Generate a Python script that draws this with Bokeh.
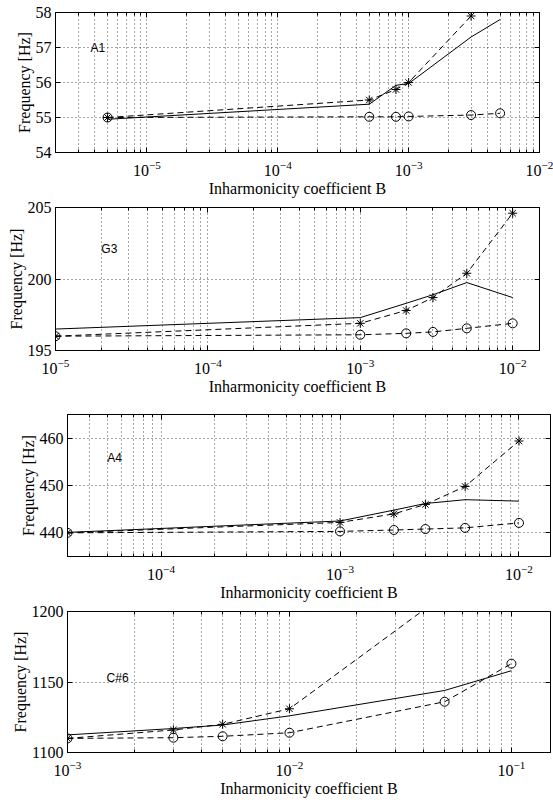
from bokeh.plotting import figure
from bokeh.models import Range1d, FixedTicker, LogAxis, LinearAxis, Label
from bokeh.embed import file_html
from bokeh.resources import INLINE

SERIF = "Times"
SANS = "Arial"

# ---------------- data ----------------
# A1
A1_B_star = [5e-6, 5e-4, 8e-4, 1e-3, 3e-3]
A1_f_star = [55.0, 55.5, 55.8, 56.0, 57.9]
A1_B = [5e-6, 5e-4, 8e-4, 1e-3, 3e-3, 5e-3]
A1_f_circle = [55.0, 55.02, 55.02, 55.03, 55.07, 55.12]
A1_f_solid = [54.95, 55.38, 55.92, 55.97, 57.3, 57.8]
A1_yticks = [54, 55, 56, 57, 58]

# G3
G3_B = [1e-5, 1e-3, 2e-3, 3e-3, 5e-3, 1e-2]
G3_f_star = [196.0, 196.9, 197.8, 198.7, 200.4, 204.6]
G3_f_circle = [196.0, 196.1, 196.2, 196.3, 196.55, 196.9]
G3_f_solid = [196.5, 197.3, 198.3, 198.9, 199.75, 198.7]
G3_yticks = [195, 200, 205]

# A4
A4_B = [3e-5, 1e-3, 2e-3, 3e-3, 5e-3, 1e-2]
A4_f_star = [440.0, 442.2, 444.0, 446.0, 449.8, 459.4]
A4_f_circle = [440.0, 440.3, 440.6, 440.8, 441.05, 442.1]
A4_f_solid = [440.1, 442.5, 444.8, 446.2, 447.0, 446.7]
A4_yticks = [440, 450, 460]

# C#6
C6_B = [1e-3, 3e-3, 5e-3, 1e-2, 5e-2, 1e-1]
C6_f_star = [1110, 1116, 1120, 1131, 1212, 1290]
C6_f_circle = [1110, 1110.5, 1111.5, 1114, 1136, 1163]
C6_f_solid = [1112.5, 1117, 1119.5, 1126, 1144, 1158]
C6_yticks = [1100, 1150, 1200]

X_LABEL = "Inharmonicity coefficient B"
Y_LABEL = "Frequency [Hz]"

panels = [
    dict(name="A1", Bs=A1_B_star, fs=A1_f_star, B=A1_B, fc=A1_f_circle, fl=A1_f_solid,
         xr=(2e-6, 1e-2), yr=(54, 58), yt=A1_yticks, lab=(3.7e-6, 57.0),
         h=199, bt=12, bb=45, bl=55, br=14),
    dict(name="G3", Bs=G3_B, fs=G3_f_star, B=G3_B, fc=G3_f_circle, fl=G3_f_solid,
         xr=(1e-5, 1.5e-2), yr=(195, 205), yt=G3_yticks, lab=(2e-5, 202.1),
         h=201, bt=8, bb=50, bl=55, br=14),
    dict(name="A4", Bs=A4_B, fs=A4_f_star, B=A4_B, fc=A4_f_circle, fl=A4_f_solid,
         xr=(3e-5, 1.5e-2), yr=(435, 465), yt=A4_yticks, lab=(5e-5, 455.8),
         h=203, bt=14, bb=47, bl=67, br=3),
    dict(name="C#6", Bs=C6_B, fs=C6_f_star, B=C6_B, fc=C6_f_circle, fl=C6_f_solid,
         xr=(1e-3, 0.15), yr=(1100, 1200), yt=C6_yticks, lab=(1.5e-3, 1152.5),
         h=199, bt=8, bb=50, bl=67, br=3),
]


def log_ticks(lo, hi):
    majors, minors = [], []
    for n in range(-8, 2):
        d = 10.0 ** n
        if lo * 0.999 <= d <= hi * 1.001:
            majors.append(d)
        for k in range(2, 10):
            v = k * d
            if lo <= v <= hi:
                minors.append(v)
    return majors, minors


def style_axis(ax, labels=True):
    ax.axis_line_color = "black"
    ax.axis_line_width = 1
    ax.major_tick_in = 5
    ax.major_tick_out = 0
    ax.minor_tick_in = 3
    ax.minor_tick_out = 0
    ax.major_tick_line_color = "black"
    ax.minor_tick_line_color = "black"
    if labels:
        ax.major_label_text_font = SERIF
        ax.major_label_text_font_size = "16px"
        ax.major_label_text_color = "black"
        ax.axis_label_text_font = SERIF
        ax.axis_label_text_font_size = "16px"
        ax.axis_label_text_font_style = "normal"
        ax.axis_label_text_color = "black"
        ax.axis_label_standoff = 0
    else:
        ax.major_label_text_font_size = "1px"
        ax.major_label_text_color = None
        ax.major_label_standoff = 0


figs = []
for c in panels:
    majors, minors = log_ticks(*c["xr"])
    p = figure(width=553, height=c["h"], x_axis_type="log",
               x_range=Range1d(*c["xr"]), y_range=Range1d(*c["yr"]),
               output_backend="svg", toolbar_location=None,
               min_border_left=c["bl"], min_border_right=c["br"],
               min_border_top=c["bt"], min_border_bottom=c["bb"])
    p.background_fill_color = "white"
    p.border_fill_color = "white"
    p.outline_line_color = "black"
    p.outline_line_width = 1
    p.outline_line_alpha = 1

    xt = FixedTicker(ticks=majors, minor_ticks=minors)
    ytk = FixedTicker(ticks=c["yt"], minor_ticks=[])
    xa = p.xaxis[0]
    xa.ticker = xt
    xa.axis_label = X_LABEL
    style_axis(xa)
    xa.major_label_standoff = 8
    xa.axis_label_standoff = 1
    ya = p.yaxis[0]
    ya.ticker = ytk
    ya.axis_label = Y_LABEL
    style_axis(ya)
    ya.major_label_standoff = 4
    ya.minor_tick_in = 0

    top = LogAxis(ticker=xt)
    style_axis(top, labels=False)
    p.add_layout(top, "above")
    right = LinearAxis(ticker=ytk)
    style_axis(right, labels=False)
    right.minor_tick_in = 0
    p.add_layout(right, "right")

    p.xgrid.grid_line_color = "black"
    p.xgrid.grid_line_alpha = 0.7
    p.xgrid.grid_line_dash = "1 3"
    p.xgrid.minor_grid_line_color = "black"
    p.xgrid.minor_grid_line_alpha = 0.7
    p.xgrid.minor_grid_line_dash = "1 3"
    p.ygrid.grid_line_color = "black"
    p.ygrid.grid_line_alpha = 0.7
    p.ygrid.grid_line_dash = "1 3"

    p.line(c["B"], c["fl"], line_color="black", line_width=1)
    p.line(c["Bs"], c["fs"], line_color="black", line_width=1, line_dash="6 4")
    p.line(c["B"], c["fc"], line_color="black", line_width=1, line_dash="6 4")
    p.scatter(c["Bs"], c["fs"], marker="asterisk", size=9, line_color="black", line_width=1)
    p.scatter(c["B"], c["fc"], marker="circle", size=9, fill_color=None,
              line_color="black", line_width=1)

    p.add_layout(Label(x=c["lab"][0], y=c["lab"][1], text=c["name"],
                       text_font=SANS, text_font_size="12px",
                       text_baseline="middle", text_align="left", text_color="black"))
    figs.append(p)

open("out.html", "w").write(file_html(figs, INLINE))
